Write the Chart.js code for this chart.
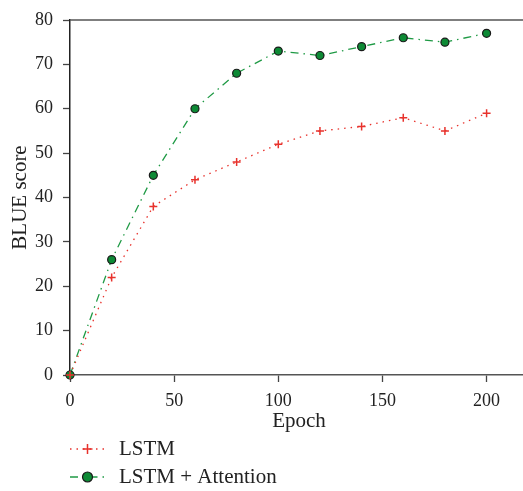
<!DOCTYPE html>
<html>
<head>
<meta charset="utf-8">
<script src="https://cdn.jsdelivr.net/npm/chart.js@4"></script>
<style>
  html, body { margin: 0; padding: 0; background: #fff; }
  #wrap { width: 523px; height: 491px; }
</style>
</head>
<body>
<div id="wrap"><canvas id="bleuChart" width="523" height="491"></canvas></div>
<script>
// data
const epochs = [0, 20, 40, 60, 80, 100, 120, 140, 160, 180, 200];
const lstmScores = [0, 22, 38, 44, 48, 52, 55, 56, 58, 55, 59];
const attnScores = [0, 26, 45, 60, 68, 73, 72, 74, 76, 75, 77];
const seriesNames = ["LSTM", "LSTM + Attention"];
const xTicks = [0, 50, 100, 150, 200];
const yTicks = [0, 10, 20, 30, 40, 50, 60, 70, 80];

const FONT = "'Liberation Serif', 'DejaVu Serif', serif";
const RED = "#e8322c";
const GREEN = "#1f9a45";

const toPoints = (xs, ys) => xs.map((x, i) => ({ x: x, y: ys[i] }));

// top border line, x title and the legend under the plot
const extras = {
  id: "extras",
  afterDraw(chart) {
    const ctx = chart.ctx;
    const a = chart.chartArea;
    ctx.save();
    ctx.strokeStyle = "#555";
    ctx.lineWidth = 1.5;
    ctx.beginPath();
    ctx.moveTo(a.left, a.top);
    ctx.lineTo(523, a.top);
    ctx.stroke();

    ctx.fillStyle = "#222";
    ctx.font = "21px " + FONT;
    ctx.textAlign = "center";
    ctx.textBaseline = "middle";
    ctx.fillText("Epoch", 299, 421);

    const rows = [449, 477];
    chart.data.datasets.forEach((ds, i) => {
      const y = rows[i];
      ctx.strokeStyle = ds.borderColor;
      ctx.lineWidth = ds.borderWidth;
      ctx.setLineDash(ds.borderDash);
      ctx.beginPath();
      ctx.moveTo(70, y);
      ctx.lineTo(105, y);
      ctx.stroke();
      ctx.setLineDash([]);
      if (ds.pointStyle === "cross") {
        ctx.strokeStyle = ds.pointBorderColor;
        ctx.lineWidth = 1.5;
        ctx.beginPath();
        ctx.moveTo(87.5 - 5, y); ctx.lineTo(87.5 + 5, y);
        ctx.moveTo(87.5, y - 5); ctx.lineTo(87.5, y + 5);
        ctx.stroke();
      } else {
        ctx.fillStyle = ds.pointBackgroundColor;
        ctx.strokeStyle = ds.pointBorderColor;
        ctx.lineWidth = 1.2;
        ctx.beginPath();
        ctx.arc(87.5, y, 5, 0, Math.PI * 2);
        ctx.fill();
        ctx.stroke();
      }
      ctx.fillStyle = "#222";
      ctx.font = "21px " + FONT;
      ctx.textBaseline = "middle";
      ctx.textAlign = "left";
      ctx.fillText(ds.label, 119, y);
    });
    ctx.restore();
  }
};

new Chart(document.getElementById("bleuChart").getContext("2d"), {
  type: "line",
  data: {
    datasets: [
      {
        label: seriesNames[0],
        data: toPoints(epochs, lstmScores),
        borderColor: RED,
        borderWidth: 1.3,
        borderDash: [1.5, 5],
        pointStyle: "cross",
        pointRadius: 4,
        pointBorderWidth: 1.5,
        pointBorderColor: RED,
        pointBackgroundColor: RED,
        tension: 0,
        clip: false
      },
      {
        label: seriesNames[1],
        data: toPoints(epochs, attnScores),
        borderColor: GREEN,
        borderWidth: 1.3,
        borderDash: [8, 5, 1.5, 5],
        pointStyle: "circle",
        pointRadius: 4,
        pointBorderWidth: 1.2,
        pointBorderColor: "#1a1a1a",
        pointBackgroundColor: "#0d8a35",
        tension: 0,
        clip: false
      }
    ]
  },
  options: {
    responsive: false,
    animation: false,
    layout: { autoPadding: false, padding: { top: 20, right: 1, left: 0, bottom: 0 } },
    plugins: { legend: { display: false }, tooltip: { enabled: false } },
    scales: {
      x: {
        type: "linear",
        min: 0,
        max: 217,
        afterBuildTicks(scale) { scale.ticks = xTicks.map(v => ({ value: v })); },
        afterFit(scale) { scale.height = 116; scale.paddingLeft = 0; scale.paddingRight = 0; },
        grid: { drawOnChartArea: false, drawTicks: true, tickLength: 7, color: "#444", tickWidth: 1.3 },
        border: { color: "#555", width: 1.5 },
        ticks: { color: "#222", font: { family: FONT, size: 18 }, padding: 8, maxRotation: 0 },
        title: { display: false }
      },
      y: {
        min: 0,
        max: 80,
        afterBuildTicks(scale) { scale.ticks = yTicks.map(v => ({ value: v })); },
        afterFit(scale) { scale.width = 70; scale.paddingTop = 0; scale.paddingBottom = 0; },
        grid: { drawOnChartArea: false, drawTicks: true, tickLength: 7, color: "#444", tickWidth: 1.3 },
        border: { color: "#222", width: 1.5 },
        ticks: { color: "#222", font: { family: FONT, size: 18 }, padding: 10 },
        title: { display: true, text: "BLUE score", color: "#222", font: { family: FONT, size: 21 }, padding: { top: 8, bottom: 0 } }
      }
    }
  },
  plugins: [extras]
});
</script>
</body>
</html>
